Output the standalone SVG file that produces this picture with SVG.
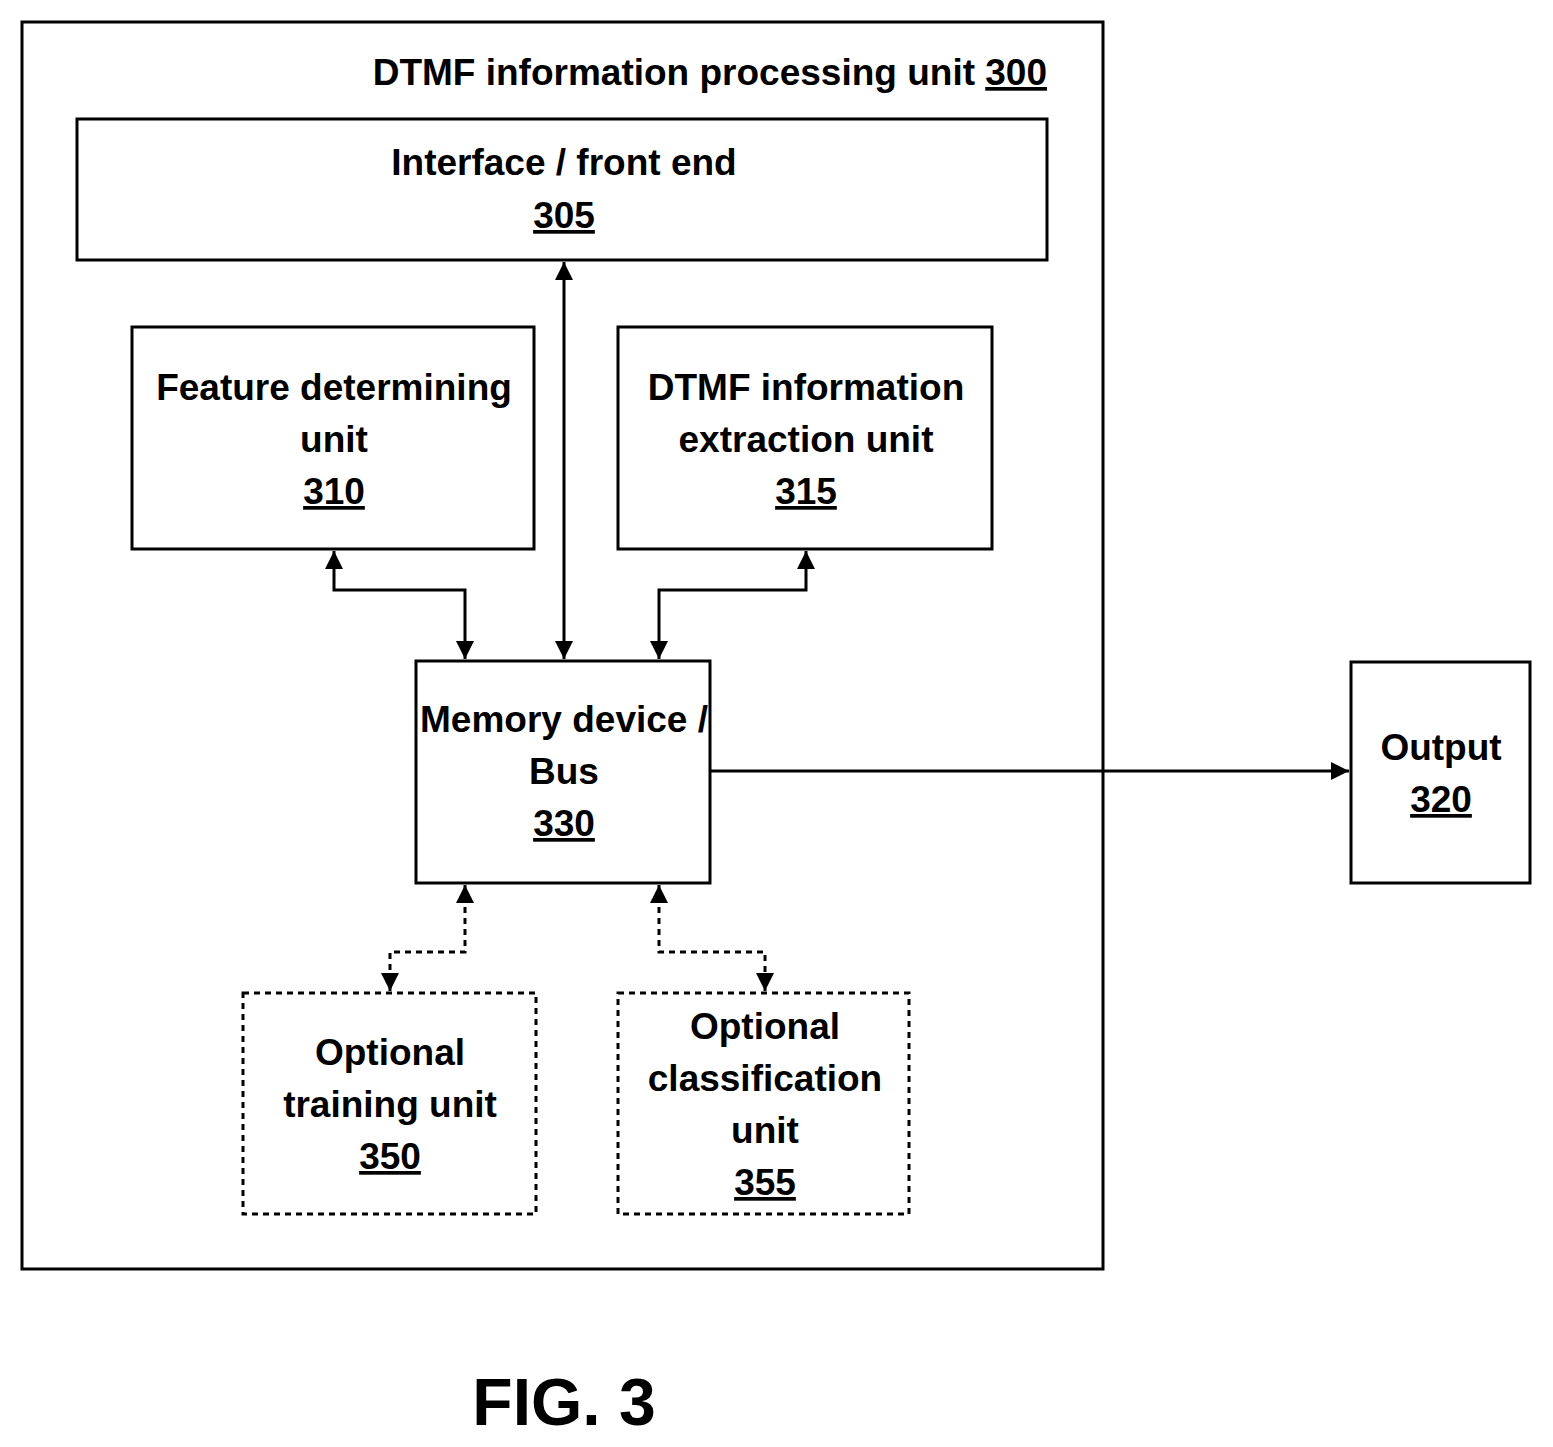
<svg xmlns="http://www.w3.org/2000/svg" width="1553" height="1447" viewBox="0 0 1553 1447">
<style>
text{font-family:"Liberation Sans Narrow","Liberation Sans",Arial,sans-serif;font-weight:bold;font-size:37px;fill:#000;text-anchor:middle}
.b{fill:#fff;stroke:#000;stroke-width:3}
.d{fill:#fff;stroke:#000;stroke-width:3;stroke-dasharray:6 5}
.c{fill:none;stroke:#000;stroke-width:3}
.cd{fill:none;stroke:#000;stroke-width:3;stroke-dasharray:6 5}
</style>
<defs>
<marker id="a" viewBox="0 0 10 10" refX="10" refY="5" markerWidth="6" markerHeight="6" orient="auto-start-reverse"><path d="M0,0L10,5L0,10z"/></marker>
</defs>
<rect width="1553" height="1447" fill="#fff"/>
<g id="n300"><rect class="b" x="22" y="22" width="1081" height="1247"/>
<text x="1047" y="85" style="text-anchor:end">DTMF information processing unit <tspan text-decoration="underline">300</tspan></text></g>
<g id="n305"><rect class="b" x="77" y="119" width="970" height="141"/>
<text x="564" y="175">Interface / front end</text><text x="564" y="228" text-decoration="underline">305</text></g>
<g id="n310"><rect class="b" x="132" y="327" width="402" height="222"/>
<text x="334" y="400">Feature determining</text><text x="334" y="452">unit</text><text x="334" y="504" text-decoration="underline">310</text></g>
<g id="n315"><rect class="b" x="618" y="327" width="374" height="222"/>
<text x="806" y="400">DTMF information</text><text x="806" y="452">extraction unit</text><text x="806" y="504" text-decoration="underline">315</text></g>
<g id="n330"><rect class="b" x="416" y="661" width="294" height="222"/>
<text x="564" y="732">Memory device /</text><text x="564" y="784">Bus</text><text x="564" y="836" text-decoration="underline">330</text></g>
<g id="n320"><rect class="b" x="1351" y="662" width="179" height="221"/>
<text x="1441" y="760">Output</text><text x="1441" y="812" text-decoration="underline">320</text></g>
<g id="n350"><rect class="d" x="243" y="993" width="293" height="221"/>
<text x="390" y="1065">Optional</text><text x="390" y="1117">training unit</text><text x="390" y="1169" text-decoration="underline">350</text></g>
<g id="n355"><rect class="d" x="618" y="993" width="291" height="221"/>
<text x="765" y="1039">Optional</text><text x="765" y="1091">classification</text><text x="765" y="1143">unit</text><text x="765" y="1195" text-decoration="underline">355</text></g>
<g id="connectors">
<path class="c" d="M564,262V659" marker-start="url(#a)" marker-end="url(#a)"/>
<path class="c" d="M334,551V590H465V659" marker-start="url(#a)" marker-end="url(#a)"/>
<path class="c" d="M806,551V590H659V659" marker-start="url(#a)" marker-end="url(#a)"/>
<path class="c" d="M710,771H1349" marker-end="url(#a)"/>
<path class="cd" d="M465,885V952H390V991" marker-start="url(#a)" marker-end="url(#a)"/>
<path class="cd" d="M659,885V952H765V991" marker-start="url(#a)" marker-end="url(#a)"/>
</g>
<text x="564" y="1425" style="font-size:66px">FIG. 3</text>
</svg>
